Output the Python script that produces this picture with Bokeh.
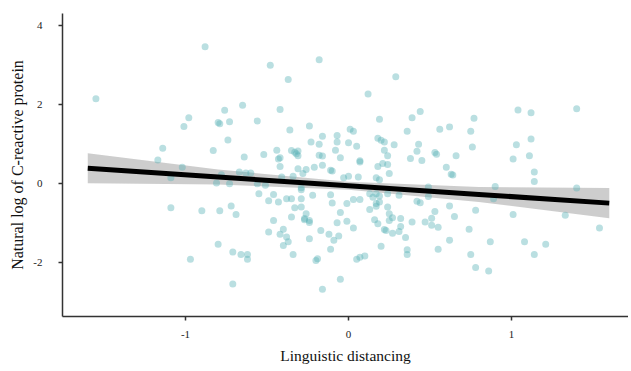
from bokeh.plotting import figure
from bokeh.models import Range1d, FixedTicker
from bokeh.embed import file_html
from bokeh.resources import INLINE

# Scatter data (linguistic distancing, ln CRP)
xs = [-1.55, -0.88, -0.65, -0.76, -0.98, -1.01, -0.80, -0.79, -0.73, -0.74,
      -1.14, -0.83, -0.64, -1.17, -0.48, -0.18, -0.37, 0.29, 0.12, -0.42,
      -0.56, -0.36, -0.24, 0.44, 0.39, 0.19, 0.36, 0.56, -0.16, -0.07,
      0.01, 0.03, -0.23, -0.18, -0.07, 0.00, 0.05, 0.18, 0.20, 0.22,
      0.28, 0.43, -0.52, -0.44, -0.42, -0.35, -0.33, -0.31, -0.31, -0.18,
      -0.16, -0.08, -0.05, 0.07, 0.22, 0.24, 0.38, 0.42, 0.45, 0.53,
      0.54, 1.40, 1.04, 1.12, 0.77, 0.62, 0.75, 1.12, 1.03, 0.76,
      0.66, 1.01, 1.11, -1.02, -1.09, -0.78, -0.81, -0.73, -0.67, -0.63,
      -0.60, -0.56, -0.51, -0.42, -0.41, -0.34, -0.31, -0.28, -0.26, -0.21,
      -0.43, -0.32, -0.29, -1.09, -0.90, -0.79, -0.72, -0.69, -0.80, -0.71,
      -0.66, -0.62, -0.62, -0.97, -0.71, -0.55, -0.49, -0.46, -0.43, -0.38,
      -0.35, -0.29, -0.33, -0.29, -0.22, -0.35, -0.26, -0.27, -0.24, -0.46,
      -0.49, -0.40, -0.42, -0.38, -0.37, -0.40, -0.24, -0.34, -0.20, -0.16,
      -0.11, -0.10, -0.03, 0.00, 0.06, 0.07, 0.18, 0.21, 0.24, 0.25,
      0.17, 0.19, -0.29, -0.24, -0.27, -0.11, -0.10, -0.17, -0.12, -0.09,
      -0.06, -0.05, -0.07, -0.01, 0.03, -0.01, 0.03, 0.07, -0.11, -0.19,
      0.05, 0.07, 0.10, -0.05, -0.16, 0.13, 0.15, 0.17, 0.19, 0.19,
      0.17, 0.13, 0.17, 0.24, 0.24, 0.31, 0.25, 0.27, 0.25, 0.32,
      0.16, 0.18, 0.22, 0.23, 0.27, 0.31, 0.32, 0.35, 0.20, 0.36,
      0.36, 0.39, 0.42, 0.44, 0.47, 0.51, 0.53, 0.51, 0.55, 0.55,
      0.49, 0.49, 0.60, 0.63, 0.64, 1.14, 1.14, 0.90, 0.89, 1.40,
      0.78, 1.01, 1.33, 1.54, 0.65, 0.62, 0.74, 0.62, 0.87, 1.08,
      1.21, 0.75, 1.14, 0.78, 0.86]
ys = [2.14, 3.46, 1.98, 1.85, 1.66, 1.44, 1.54, 1.51, 1.56, 1.10,
      0.89, 0.83, 0.67, 0.59, 2.99, 3.13, 2.63, 2.70, 2.26, 1.87,
      1.58, 1.35, 1.45, 1.82, 1.66, 1.62, 1.32, 1.37, 1.19, 1.21,
      1.37, 1.32, 1.05, 0.99, 1.05, 1.03, 0.94, 1.14, 1.09, 1.05,
      0.98, 0.99, 0.73, 0.84, 0.65, 0.83, 0.79, 0.70, 0.82, 0.71,
      0.69, 0.84, 0.65, 0.57, 0.84, 0.70, 0.63, 0.81, 0.58, 0.78,
      0.74, 1.89, 1.86, 1.79, 1.65, 1.43, 1.32, 1.12, 0.98, 0.92,
      0.70, 0.62, 0.70, 0.41, 0.14, 0.22, 0.01, -0.01, 0.29, 0.26,
      0.26, -0.01, -0.05, 0.43, 0.16, 0.18, 0.37, 0.25, 0.35, 0.41,
      0.62, 0.75, -0.11, -0.62, -0.69, -0.69, -0.57, -0.79, -1.54, -1.74,
      -1.80, -1.80, -1.92, -1.92, -2.55, -0.26, -0.44, -0.28, -0.47, -0.39,
      -0.39, -0.39, -0.62, -0.60, -0.30, -0.85, -0.77, -0.89, -0.94, -0.94,
      -1.23, -1.16, -1.29, -1.36, -1.48, -1.57, -1.40, -1.80, -1.95, 0.46,
      0.33, 0.31, 0.14, 0.18, 0.16, 0.54, 0.43, 0.50, 0.48, 0.25,
      0.14, 0.09, -0.16, -0.99, -0.92, -0.29, -0.50, -1.19, -1.29, -1.44,
      -1.33, -0.74, -1.00, -0.96, -1.13, -0.51, -0.41, -0.41, -1.67, -1.91,
      -1.92, -1.87, -1.84, -2.43, -2.68, -0.26, -0.35, -0.26, -0.32, -0.47,
      -0.51, -0.66, -0.58, -0.60, -0.26, -0.30, -0.77, -0.87, -0.94, -0.89,
      -0.92, -1.02, -1.17, -1.19, -1.26, -1.22, -1.09, -1.37, -1.59, -1.68,
      -1.80, -0.98, -0.45, -0.49, -0.98, -0.88, -0.71, -1.06, -1.11, -1.67,
      -0.09, -0.33, 0.41, 0.23, 0.21, 0.29, 0.05, -0.08, -0.39, -0.12,
      -0.68, -0.79, -0.81, -1.13, -0.84, -0.57, -1.16, -1.44, -1.48, -1.48,
      -1.54, -1.80, -1.80, -2.13, -2.22]

# Fitted regression line and its confidence band
fit_x = [-1.6, -0.8, 0.0, 0.8, 1.6]
fit_y = [0.38, 0.16, -0.06, -0.28, -0.50]
band_lower = [0.00, -0.03, -0.16, -0.47, -0.88]
band_upper = [0.76, 0.35, 0.04, -0.09, -0.12]

x_ticks = [-1, 0, 1]
y_ticks = [-2, 0, 2, 4]

p = figure(width=628, height=367, output_backend="svg", toolbar_location=None,
           x_range=Range1d(-1.755, 1.718), y_range=Range1d(-3.37, 4.30),
           min_border_left=62, min_border_right=0, min_border_top=13,
           min_border_bottom=51)

p.varea(x=fit_x, y1=band_lower, y2=band_upper, fill_color="#c8c8c8", fill_alpha=0.9)
p.scatter(x=xs, y=ys, size=7, fill_color="#5ab2b8", fill_alpha=0.42, line_color=None)
p.line(x=fit_x, y=fit_y, line_color="black", line_width=5)

p.xgrid.visible = False
p.ygrid.visible = False
p.outline_line_color = None
p.background_fill_color = "white"
p.border_fill_color = "white"

p.xaxis.ticker = FixedTicker(ticks=x_ticks)
p.yaxis.ticker = FixedTicker(ticks=y_ticks)
p.xaxis.major_label_overrides = {-1: "-1", 0: "0", 1: "1"}
p.yaxis.major_label_overrides = {-2: "-2", 0: "0", 2: "2", 4: "4"}

for ax in (p.xaxis[0], p.yaxis[0]):
    ax.axis_line_color = "#333333"
    ax.axis_line_width = 1.5
    ax.major_tick_line_color = "#333333"
    ax.major_tick_line_width = 1.5
    ax.major_tick_out = 4
    ax.major_tick_in = 0
    ax.minor_tick_line_color = None
    ax.major_label_text_font = "Liberation Serif"
    ax.major_label_text_font_size = "11px"
    ax.major_label_text_color = "#222222"
    ax.axis_label_text_font = "Liberation Serif"
    ax.axis_label_text_font_style = "normal"
    ax.axis_label_text_color = "#111111"

p.xaxis.axis_label = "Linguistic distancing"
p.yaxis.axis_label = "Natural log of C-reactive protein"
p.xaxis.axis_label_text_font_size = "15.5px"
p.yaxis.axis_label_text_font_size = "16px"
p.xaxis.major_label_standoff = 10
p.yaxis.major_label_standoff = 16
p.xaxis.axis_label_standoff = 6
p.yaxis.axis_label_standoff = 4

open("out.html", "w").write(file_html(p, INLINE))
